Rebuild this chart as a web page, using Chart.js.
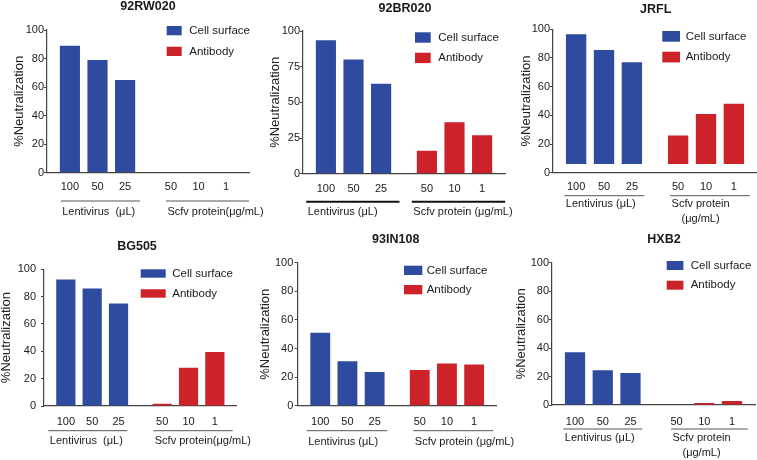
<!DOCTYPE html>
<html>
<head>
<meta charset="utf-8">
<script src="https://cdn.jsdelivr.net/npm/chart.js@4.4.1/dist/chart.umd.min.js"></script>
<style>
  html, body { margin: 0; padding: 0; background: #fff; overflow: hidden; }
  #fig { position: relative; width: 757px; height: 460px; overflow: hidden; }
  #fig canvas { position: absolute; }
</style>
</head>
<body>
<div id="fig"></div>
<script>
// data
const panelTitles = ['92RW020', '92BR020', 'JRFL', 'BG505', '93IN108', 'HXB2'];
const groupNames = ['Lentivirus', 'Scfv protein'];
const doseLentivirus = ['100', '50', '25'];
const doseScfv = ['50', '10', '1'];
const cellSurface = [
  [89, 79, 65],
  [93.5, 80, 63],
  [96.5, 85.5, 77],
  [92.5, 86, 75],
  [51, 31, 23.5],
  [37, 24.5, 22.5]
];
const antibody = [
  [0, 0, 0],
  [16, 36, 27],
  [26, 41, 48],
  [1.7, 28, 39.5],
  [25, 29.5, 28.8],
  [0, 1.4, 2.8]
];
const barBase = [0, 0, 6, 0, 0, 0];
const yStep = [20, 25, 20, 20, 20, 20];
const groupLabels = [
  ['Lentivirus  (\u03bcL)', 'Scfv protein(\u03bcg/mL)'],
  ['Lentivirus (\u03bcL)', 'Scfv protein (\u03bcg/mL)'],
  ['Lentivirus (\u03bcL)', ['Scfv protein', '(\u03bcg/mL)']],
  ['Lentivirus  (\u03bcL)', 'Scfv protein(\u03bcg/mL)'],
  ['Lentivirus (\u03bcL)', 'Scfv protein (\u03bcg/mL)'],
  ['Lentivirus (\u03bcL)', ['Scfv protein', '(\u03bcg/mL)']]
];
const legendNames = ['Cell surface', 'Antibody'];

const BLUE = '#2e4b9f';
const RED = '#cd2229';
const FONT = '"Liberation Sans", Arial, sans-serif';
Chart.defaults.font.family = FONT;
Chart.defaults.color = '#222';

// panel placement (canvas-local pixels)
const panels = [
  { left: 0, top: 0, w: 275, area: [47, 30, 249, 172.7], yTitleX: 19, tickPad: 0, title: [148, 7],
    legend: [166.7, 26, 15, 9.3, 20.7, 189.3], numY: 14.6, lineY: 28.3, labelY: 39,
    linePad: [[-0.9, 4.8], [-5.1, 12.8]], line: ['#555', 1] },
  { left: 250, top: 0, w: 275, area: [53, 31, 255, 173.7], yTitleX: 25, tickPad: 0, title: [155, 8.7],
    legend: [165, 32.3, 15.7, 10.4, 20.4, 188.3], numY: 15.6, lineY: 28, labelY: 38,
    linePad: [[9.6, 8.3], [5, 13]], line: ['#111', 2] },
  { left: 500, top: 0, w: 257, area: [53, 29.3, 257, 172.7], yTitleX: 26.7, tickPad: 0, title: [155.7, 10],
    legend: [162.3, 31, 17.7, 10.7, 20.7, 185.7], numY: 14.6, lineY: 23, labelY: 31.6,
    linePad: [[1.6, 2.2], [-2.1, 5.9]], line: ['#555', 1] },
  { left: 0, top: 230, w: 275, area: [44, 39.3, 236.7, 176], yTitleX: 6.7, tickPad: 5, title: [137, 16.7],
    legend: [140.7, 39.3, 25, 8.4, 20, 172.3], numY: 15.7, lineY: 24.7, labelY: 34.7,
    linePad: [[7.9, -0.8], [-0.7, 8.2]], line: ['#555', 1] },
  { left: 250, top: 230, w: 275, area: [47.7, 32.7, 246.7, 175.7], yTitleX: 15, tickPad: 1.4, title: [145.7, 10],
    legend: [154, 35.7, 18.3, 9.3, 19.3, 176.7], numY: 16, lineY: 25, labelY: 36,
    linePad: [[3.6, 2.7], [-3.5, 9.2]], line: ['#555', 1] },
  { left: 500, top: 230, w: 257, area: [52, 32.7, 255, 175], yTitleX: 21.7, tickPad: 0, title: [164, 10],
    legend: [166.7, 31, 16.7, 9, 19.7, 190.7], numY: 16.7, lineY: 24, labelY: 33.3,
    linePad: [[1.6, 1.7], [-4.6, 5.6]], line: ['#555', 1] }
];

// title, legend and the dose / group labels under the x axis
const panelDecor = {
  id: 'panelDecor',
  afterDraw(chart, args, o) {
    const ctx = chart.ctx;
    const bottom = chart.chartArea.bottom;
    ctx.save();
    ctx.fillStyle = '#1a1a1a';
    ctx.textBaseline = 'middle';

    ctx.font = 'bold 12.5px ' + FONT;
    ctx.textAlign = 'center';
    ctx.fillText(o.title, o.pos.title[0], o.pos.title[1]);

    const [lx, ly, bw, bh, step, tx] = o.pos.legend;
    ctx.font = '11.5px ' + FONT;
    ctx.textAlign = 'left';
    legendNames.forEach((name, i) => {
      const y = ly + i * step;
      ctx.fillStyle = i === 0 ? BLUE : RED;
      ctx.fillRect(lx, y, bw, bh);
      ctx.fillStyle = '#1a1a1a';
      ctx.fillText(name, tx, y + bh / 2);
    });

    [0, 1].forEach(g => {
      const bars = [0, 1, 2].map(k => chart.getDatasetMeta(k).data[g]);
      const doses = g === 0 ? doseLentivirus : doseScfv;
      ctx.font = '11px ' + FONT;
      ctx.textAlign = 'center';
      bars.forEach((b, k) => ctx.fillText(doses[k], b.x, bottom + o.pos.numY));

      const x0 = bars[0].x - bars[0].width / 2 - o.pos.linePad[g][0];
      const x1 = bars[2].x + bars[2].width / 2 + o.pos.linePad[g][1];
      ctx.strokeStyle = o.pos.line[0];
      ctx.lineWidth = o.pos.line[1];
      ctx.beginPath();
      ctx.moveTo(x0, bottom + o.pos.lineY);
      ctx.lineTo(x1, bottom + o.pos.lineY);
      ctx.stroke();

      const lines = [].concat(o.groups[g]);
      ctx.font = '11px ' + FONT;
      const maxW = Math.max(...lines.map(t => ctx.measureText(t).width));
      const cx = x0 + 1.5 + maxW / 2;
      lines.forEach((t, i) => ctx.fillText(t, cx, bottom + o.pos.labelY + i * 15));
    });
    ctx.restore();
  }
};

const fig = document.getElementById('fig');

panels.forEach((pos, p) => {
  const cv = document.createElement('canvas');
  cv.width = pos.w;
  cv.height = 230;
  cv.style.left = pos.left + 'px';
  cv.style.top = pos.top + 'px';
  fig.appendChild(cv);

  const [aL, aT, aR, aB] = pos.area;
  const scaleLeft = pos.yTitleX - 6.5;

  new Chart(cv, {
    type: 'bar',
    data: {
      labels: groupNames,
      datasets: [0, 1, 2].map(k => ({
        label: doseLentivirus[k] + ' / ' + doseScfv[k],
        data: [cellSurface[p][k], antibody[p][k]],
        backgroundColor: [BLUE, RED],
        base: barBase[p],
        categoryPercentage: 0.82,
        barPercentage: 0.73
      }))
    },
    options: {
      responsive: false,
      animation: false,
      layout: { padding: { left: scaleLeft, top: aT, right: pos.w - aR, bottom: 0 } },
      plugins: {
        legend: { display: false },
        tooltip: { enabled: false },
        panelDecor: { title: panelTitles[p], groups: groupLabels[p], pos: pos }
      },
      scales: {
        x: {
          grid: { display: false },
          border: { color: '#444', width: 1.2 },
          ticks: { display: false },
          afterFit: s => { s.height = 230 - aB; }
        },
        y: {
          min: 0,
          max: 100,
          ticks: { stepSize: yStep[p], padding: pos.tickPad, color: '#222', font: { size: 11 } },
          grid: { drawOnChartArea: false, tickLength: 3, color: '#444' },
          border: { color: '#444', width: 1.2 },
          title: { display: true, text: '%Neutralization', color: '#222', padding: 0, font: { size: 13, lineHeight: 1 } },
          afterFit: s => { s.width = aL - scaleLeft; }
        }
      }
    },
    plugins: [panelDecor]
  });
});
</script>
</body>
</html>
